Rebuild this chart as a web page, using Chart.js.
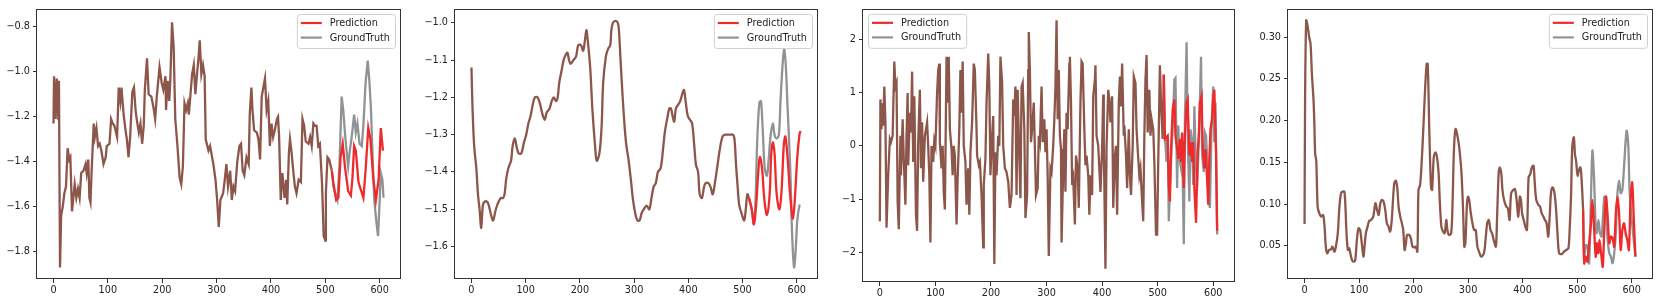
<!DOCTYPE html>
<html>
<head>
<meta charset="utf-8">
<script src="https://cdn.jsdelivr.net/npm/chart.js@4.4.1/dist/chart.umd.min.js"></script>
<style>
  html, body { margin: 0; padding: 0; background: #fff; }
  body { width: 1660px; height: 302px; position: relative; overflow: hidden; }
  .panel { position: absolute; top: 0; }
</style>
</head>
<body>
<div id="wrap"></div>
<script>
// shared x ticks (time step)
const xTicks = [0, 100, 200, 300, 400, 500, 600];

// ---- panel 1 ----
const p1History = [[0,-1.23],[1,-1.02],[4,-1.21],[6,-1.03],[9,-1.21],[10,-1.04],[12,-1.87],[14,-1.64],[17,-1.60],[20,-1.54],[23,-1.51],[26,-1.34],[29,-1.39],[31,-1.38],[34,-1.62],[39,-1.50],[42,-1.56],[45,-1.52],[48,-1.56],[51,-1.45],[55,-1.44],[59,-1.41],[61,-1.45],[64,-1.39],[66,-1.56],[68,-1.58],[70,-1.45],[74,-1.23],[76,-1.29],[79,-1.25],[82,-1.33],[85,-1.32],[88,-1.35],[92,-1.41],[96,-1.38],[98,-1.33],[103,-1.32],[106,-1.21],[109,-1.23],[112,-1.24],[117,-1.29],[120,-1.07],[123,-1.13],[125,-1.07],[129,-1.19],[133,-1.27],[135,-1.30],[138,-1.38],[141,-1.29],[145,-1.09],[148,-1.07],[151,-1.17],[153,-1.21],[157,-1.27],[160,-1.23],[163,-1.32],[166,-1.24],[168,-1.08],[172,-0.94],[175,-1.10],[180,-1.11],[184,-1.16],[187,-1.21],[190,-1.11],[195,-0.98],[199,-1.05],[202,-1.08],[206,-1.02],[207,-1.17],[210,-1.04],[213,-1.13],[215,-1.03],[218,-0.78],[221,-0.89],[224,-1.21],[228,-1.33],[232,-1.47],[235,-1.50],[238,-1.42],[241,-1.14],[244,-1.17],[247,-1.14],[249,-1.19],[252,-1.10],[255,-1.01],[258,-0.97],[261,-1.10],[264,-1.01],[267,-0.93],[269,-0.86],[272,-1.01],[275,-0.97],[278,-1.02],[280,-1.30],[285,-1.35],[288,-1.33],[291,-1.37],[294,-1.41],[298,-1.48],[301,-1.57],[304,-1.69],[307,-1.57],[312,-1.54],[315,-1.48],[318,-1.41],[321,-1.51],[325,-1.44],[328,-1.57],[331,-1.51],[334,-1.53],[338,-1.40],[342,-1.33],[345,-1.32],[348,-1.44],[351,-1.46],[355,-1.38],[359,-1.41],[361,-1.19],[364,-1.07],[366,-1.17],[369,-1.26],[374,-1.27],[377,-1.30],[380,-1.39],[383,-1.11],[386,-1.07],[389,-1.03],[392,-1.17],[395,-1.13],[398,-1.33],[401,-1.23],[404,-1.29],[407,-1.26],[411,-1.21],[413,-1.20],[415,-1.29],[418,-1.57],[421,-1.45],[425,-1.56],[428,-1.48],[430,-1.59],[433,-1.36],[435,-1.30],[438,-1.36],[441,-1.44],[444,-1.51],[447,-1.54],[451,-1.48],[455,-1.49],[458,-1.21],[461,-1.24],[464,-1.31],[469,-1.32],[472,-1.29],[475,-1.33],[478,-1.23],[481,-1.24],[484,-1.24],[487,-1.33],[490,-1.32],[494,-1.50],[497,-1.73],[500,-1.75],[501,-1.54],[504,-1.38],[507,-1.39],[512,-1.44]];
const p1Pred = [[512,-1.44],[515,-1.50],[520,-1.57],[524,-1.56],[528,-1.38],[532,-1.32],[536,-1.42],[542,-1.53],[547,-1.55],[550,-1.47],[553,-1.33],[556,-1.35],[561,-1.49],[566,-1.53],[570,-1.56],[574,-1.44],[579,-1.25],[583,-1.30],[588,-1.47],[593,-1.57],[598,-1.48],[602,-1.25],[606,-1.35]];
const p1True = [[512,-1.44],[515,-1.51],[518,-1.54],[522,-1.57],[526,-1.42],[530,-1.11],[533,-1.17],[536,-1.27],[539,-1.35],[542,-1.42],[545,-1.35],[548,-1.30],[553,-1.19],[556,-1.27],[559,-1.23],[563,-1.32],[567,-1.33],[570,-1.24],[574,-1.05],[578,-0.95],[581,-1.04],[584,-1.17],[587,-1.38],[590,-1.57],[594,-1.67],[597,-1.73],[600,-1.57],[602,-1.45],[605,-1.48],[607,-1.56]];
const p1YTicks = [-1.8, -1.6, -1.4, -1.2, -1.0, -0.8];

// ---- panel 2 ----
const p2History = [[0,-1.12],[2,-1.23],[5,-1.33],[9,-1.39],[12,-1.46],[15,-1.50],[18,-1.55],[21,-1.49],[24,-1.48],[29,-1.48],[32,-1.49],[37,-1.52],[40,-1.53],[45,-1.50],[50,-1.48],[54,-1.47],[58,-1.47],[61,-1.46],[64,-1.42],[68,-1.39],[73,-1.37],[76,-1.33],[80,-1.31],[83,-1.33],[87,-1.35],[92,-1.35],[97,-1.32],[101,-1.30],[105,-1.27],[109,-1.25],[113,-1.22],[117,-1.20],[122,-1.20],[127,-1.22],[130,-1.24],[135,-1.26],[139,-1.24],[144,-1.23],[148,-1.21],[152,-1.20],[156,-1.21],[159,-1.20],[162,-1.16],[166,-1.13],[170,-1.10],[174,-1.085],[177,-1.08],[180,-1.10],[183,-1.11],[188,-1.10],[193,-1.09],[197,-1.06],[202,-1.06],[206,-1.075],[209,-1.05],[212,-1.02],[214,-1.04],[219,-1.12],[223,-1.23],[228,-1.33],[231,-1.37],[236,-1.35],[240,-1.28],[243,-1.16],[248,-1.09],[252,-1.07],[256,-1.06],[258,-1.02],[261,-1.00],[266,-0.995],[270,-1.00],[272,-1.02],[275,-1.10],[280,-1.225],[285,-1.32],[290,-1.37],[294,-1.42],[298,-1.475],[302,-1.51],[306,-1.53],[310,-1.53],[314,-1.51],[318,-1.50],[323,-1.49],[328,-1.50],[332,-1.47],[336,-1.44],[340,-1.43],[344,-1.40],[349,-1.39],[354,-1.33],[357,-1.29],[362,-1.25],[365,-1.23],[368,-1.23],[371,-1.25],[374,-1.265],[377,-1.23],[381,-1.22],[385,-1.21],[389,-1.19],[392,-1.18],[395,-1.21],[399,-1.25],[403,-1.26],[407,-1.27],[411,-1.33],[414,-1.38],[418,-1.40],[421,-1.46],[425,-1.47],[429,-1.44],[432,-1.43],[437,-1.43],[441,-1.44],[445,-1.46],[449,-1.43],[454,-1.38],[458,-1.34],[463,-1.305],[468,-1.30],[473,-1.30],[477,-1.30],[482,-1.30],[485,-1.31],[488,-1.38],[491,-1.44],[494,-1.49],[498,-1.51],[503,-1.53],[506,-1.50],[509,-1.46],[512,-1.47]];
const p2Pred = [[512,-1.47],[517,-1.50],[521,-1.54],[525,-1.49],[529,-1.40],[532,-1.36],[536,-1.39],[540,-1.47],[545,-1.515],[550,-1.46],[553,-1.35],[556,-1.32],[559,-1.35],[563,-1.46],[568,-1.50],[572,-1.45],[576,-1.33],[579,-1.305],[583,-1.36],[588,-1.465],[593,-1.525],[597,-1.46],[601,-1.36],[605,-1.30],[607,-1.29]];
const p2True = [[512,-1.47],[517,-1.50],[521,-1.54],[524,-1.475],[527,-1.32],[531,-1.215],[534,-1.21],[537,-1.28],[541,-1.39],[545,-1.41],[548,-1.37],[552,-1.30],[556,-1.27],[559,-1.30],[563,-1.31],[567,-1.30],[570,-1.21],[574,-1.11],[577,-1.07],[580,-1.12],[583,-1.225],[588,-1.39],[591,-1.55],[595,-1.655],[598,-1.61],[601,-1.53],[605,-1.49],[607,-1.49]];
const p2YTicks = [-1.6, -1.5, -1.4, -1.3, -1.2, -1.1, -1.0];

// ---- panel 3 ----
const p3History = [[0,-1.41],[1,0.87],[3,0.31],[4,0.80],[6,0.38],[8,1.11],[10,0.44],[12,-1.53],[15,-0.55],[18,0.13],[20,0.07],[23,0.19],[26,1.58],[28,1.11],[30,1.18],[32,-1.04],[34,-1.56],[37,0.19],[38,-0.55],[41,0.50],[43,-0.24],[46,-1.10],[48,0.19],[50,0.99],[51,-0.36],[54,0.62],[56,0.25],[58,1.39],[60,-0.30],[62,0.93],[65,-1.29],[67,-1.59],[69,0.07],[72,1.05],[74,-0.42],[76,0.44],[78,-0.67],[81,0.19],[83,0.31],[85,0.44],[87,0.0],[89,-0.55],[91,-1.81],[93,0.0],[96,-0.30],[98,0.10],[100,0.0],[103,0.99],[105,1.42],[107,1.54],[108,0.07],[111,-0.42],[113,0.0],[115,-0.86],[117,-1.19],[120,1.67],[122,0.81],[124,1.67],[126,0.31],[129,-0.06],[131,-0.55],[133,0.0],[135,-0.18],[138,-1.47],[140,-0.61],[143,0.31],[145,1.42],[147,0.62],[149,1.58],[151,0.0],[154,-0.30],[156,-1.10],[159,-0.42],[161,-1.29],[163,-0.12],[166,0.44],[169,1.54],[171,1.42],[174,0.31],[175,-0.18],[178,-0.36],[180,-0.30],[183,-0.92],[186,-1.90],[187,-0.73],[190,-0.24],[192,0.81],[195,1.73],[197,1.11],[199,-0.55],[202,0.19],[204,0.56],[206,-2.21],[208,-0.12],[210,-0.55],[213,0.19],[215,0.0],[217,1.67],[220,1.18],[222,0.0],[225,-0.42],[228,-0.49],[231,-0.67],[234,-1.16],[237,-0.92],[240,0.87],[242,0.56],[244,1.11],[246,-0.92],[248,1.05],[250,0.19],[253,-0.98],[255,1.11],[257,1.18],[260,0.31],[262,-1.35],[265,-0.92],[267,1.42],[268,2.13],[270,1.42],[272,0.07],[274,0.31],[277,0.81],[281,-0.92],[284,-0.79],[286,0.19],[288,0.07],[291,1.11],[293,0.07],[296,0.50],[298,-0.12],[300,0.31],[302,-0.55],[304,-2.06],[307,-0.42],[309,-0.49],[312,0.0],[314,0.50],[316,1.11],[318,2.35],[320,0.50],[322,1.42],[324,0.19],[326,-0.06],[327,-1.81],[330,-0.42],[332,0.31],[334,-0.86],[336,0.62],[338,0.31],[341,1.54],[342,1.67],[344,0.81],[346,-0.73],[348,-0.61],[351,-1.47],[353,-0.18],[356,-0.42],[358,-1.16],[361,0.81],[363,1.58],[365,1.54],[368,0.31],[370,-0.36],[372,-0.18],[375,-0.55],[377,-1.29],[379,-0.55],[382,-0.92],[384,0.93],[387,1.24],[388,1.51],[390,0.19],[393,0.0],[395,-0.42],[397,-0.86],[400,-0.06],[402,0.96],[403,0.07],[406,-2.30],[408,0.0],[411,1.05],[413,0.87],[415,0.44],[418,0.93],[420,-1.16],[423,-0.18],[425,0.0],[427,-1.29],[430,0.81],[432,1.30],[434,0.74],[436,1.54],[439,0.19],[440,0.38],[443,-0.18],[445,-0.79],[448,0.31],[450,-0.55],[452,-0.92],[455,0.0],[457,1.30],[460,1.18],[462,0.31],[464,-0.06],[467,-0.55],[469,-0.42],[472,-1.04],[474,-1.41],[476,0.19],[478,1.24],[480,1.70],[482,0.25],[485,1.05],[487,0.19],[489,0.50],[492,0.31],[494,-0.30],[497,-1.66],[499,-1.66],[501,-0.30],[504,1.51],[506,0.81],[509,0.13],[511,1.33]];
const p3Pred = [[511,1.33],[513,0.13],[518,0.19],[520,-0.73],[522,-1.04],[524,-0.06],[527,0.68],[530,0.87],[532,0.19],[535,-0.06],[537,-0.24],[540,0.13],[542,-0.30],[544,0.25],[547,-0.79],[549,0.19],[552,0.81],[554,0.87],[557,-0.18],[559,0.07],[562,-0.30],[564,0.07],[566,-0.79],[569,-1.44],[572,-0.12],[574,0.19],[576,0.81],[579,0.93],[581,0.0],[584,-0.42],[586,-0.06],[588,-0.42],[591,-1.10],[593,-0.24],[595,0.31],[598,0.50],[600,0.93],[602,1.05],[605,-0.12],[607,-1.59]];
const p3True = [[511,1.33],[513,0.19],[516,-0.30],[518,0.19],[520,-1.41],[523,-0.55],[525,-0.06],[527,0.31],[530,1.24],[532,1.27],[535,-0.79],[537,0.38],[540,-0.30],[542,-0.42],[544,0.07],[547,-1.84],[549,0.44],[552,1.94],[554,0.19],[557,-1.04],[559,0.31],[562,0.07],[564,-0.73],[566,0.74],[569,-0.42],[571,-0.79],[574,0.07],[576,0.81],[578,1.67],[580,-0.18],[583,-0.49],[585,0.25],[587,0.19],[590,-0.42],[592,-1.04],[594,-1.16],[597,0.38],[600,1.11],[602,0.07],[604,0.81],[607,-1.66]];
const p3YTicks = [-2, -1, 0, 1, 2];

// ---- panel 4 ----
const p4History = [[0,0.076],[1,0.224],[3,0.320],[5.5,0.314],[8.5,0.300],[11,0.292],[13.5,0.256],[16.5,0.224],[18,0.196],[19.5,0.160],[21.5,0.152],[24,0.097],[27,0.089],[30.5,0.085],[34,0.087],[36.7,0.073],[39,0.049],[41.6,0.041],[45,0.045],[49,0.046],[51,0.049],[55,0.043],[58,0.051],[61,0.065],[64,0.097],[67,0.113],[70,0.115],[73,0.115],[75,0.097],[77,0.065],[79.5,0.045],[82,0.047],[84,0.041],[87,0.033],[90,0.031],[93,0.033],[96,0.057],[99,0.071],[102,0.069],[105,0.053],[108,0.037],[110,0.049],[112.5,0.065],[115.6,0.073],[118.7,0.080],[122,0.081],[126,0.085],[130,0.101],[133,0.093],[136,0.087],[139,0.101],[142,0.105],[145,0.103],[148,0.093],[151,0.077],[154,0.073],[157,0.067],[160,0.081],[163,0.113],[165,0.126],[167.6,0.128],[170,0.120],[172.5,0.097],[175.5,0.085],[178.6,0.077],[181,0.069],[183.5,0.045],[186,0.053],[188,0.063],[192,0.063],[195,0.059],[198,0.049],[201,0.048],[204,0.049],[207,0.043],[209,0.117],[212,0.123],[215,0.152],[218,0.192],[221,0.236],[224,0.268],[226,0.268],[229,0.184],[232,0.120],[234,0.117],[237,0.156],[240,0.162],[243,0.156],[246,0.136],[248,0.105],[251,0.073],[254,0.067],[257,0.065],[260,0.081],[262,0.069],[265,0.063],[269,0.065],[271.5,0.101],[274,0.164],[277,0.190],[282,0.176],[285,0.160],[288,0.136],[291,0.089],[293,0.049],[295,0.053],[298,0.101],[300,0.109],[302,0.105],[305,0.089],[308,0.077],[311,0.069],[314,0.069],[317,0.049],[320,0.043],[324,0.037],[329,0.041],[332,0.057],[335,0.077],[338,0.081],[341,0.069],[344,0.065],[347,0.057],[351,0.049],[353,0.081],[356,0.136],[358,0.144],[361,0.136],[363,0.117],[366,0.105],[370,0.097],[373,0.095],[376,0.081],[379,0.113],[383,0.117],[386,0.118],[389,0.105],[392,0.085],[395,0.109],[397,0.105],[399,0.089],[402,0.081],[405,0.073],[408,0.069],[411,0.132],[414,0.136],[417,0.144],[420,0.146],[422,0.128],[425,0.105],[429,0.099],[432,0.097],[435,0.089],[438,0.085],[441,0.081],[444,0.077],[447,0.061],[450,0.089],[452,0.113],[455,0.120],[458,0.115],[461,0.097],[464,0.065],[467,0.041],[472,0.040],[476,0.043],[480,0.045],[484,0.047],[486,0.065],[489,0.113],[491,0.168],[494,0.180],[496,0.160],[498,0.152],[501,0.134],[503,0.140],[506,0.144],[508,0.132],[511,0.093]];
const p4Pred = [[511,0.093],[513,0.029],[516,0.037],[519,0.031],[522,0.053],[525,0.073],[528,0.105],[531,0.073],[534,0.037],[536,0.053],[539,0.041],[541,0.057],[544,0.041],[547,0.025],[550,0.073],[553,0.109],[556,0.085],[559,0.053],[562,0.061],[565,0.059],[568,0.049],[571,0.089],[574,0.109],[577,0.089],[580,0.045],[583,0.069],[586,0.077],[589,0.065],[592,0.057],[595,0.045],[598,0.105],[601,0.126],[604,0.081],[607,0.037]];
const p4True = [[511,0.093],[513,0.037],[516,0.051],[519,0.049],[522,0.029],[525,0.097],[528,0.164],[531,0.132],[534,0.073],[536,0.065],[539,0.081],[542,0.065],[545,0.061],[547,0.081],[550,0.109],[553,0.089],[556,0.057],[559,0.041],[562,0.037],[565,0.029],[568,0.041],[571,0.065],[574,0.113],[577,0.128],[580,0.113],[583,0.117],[586,0.144],[589,0.176],[591,0.188],[594,0.168],[596,0.120],[599,0.089],[602,0.069],[605,0.049],[607,0.037]];
const p4YTicks = [0.05, 0.10, 0.15, 0.20, 0.25, 0.30];

const FONT = "'DejaVu Sans', sans-serif";
const FS = 9.7;
const RED = "#ee2a2a", GRAY = "#909396", BROWN = "#8c564b", AXIS = "#333";

const panels = [
    { hist: p1History, pred: p1Pred, truth: p1True, ticks: p1YTicks, dec: 1, yMin: -1.921, yMax: -0.721, area: { l: 37, t: 9, r: 400, b: 279 }, legend: "right", tension: 0 },
    { hist: p2History, pred: p2Pred, truth: p2True, ticks: p2YTicks, dec: 1, yMin: -1.687, yMax: -0.963, area: { l: 455, t: 9, r: 817, b: 279 }, legend: "right", tension: 0.35 },
    { hist: p3History, pred: p3Pred, truth: p3True, ticks: p3YTicks, dec: 0, yMin: -2.548, yMax: 2.566, area: { l: 863, t: 5, r: 1234, b: 282 }, legend: "left", tension: 0 },
    { hist: p4History, pred: p4Pred, truth: p4True, ticks: p4YTicks, dec: 2, yMin: 0.0102, yMax: 0.334, area: { l: 1288, t: 8, r: 1652, b: 279 }, legend: "right", tension: 0.3 },
];

// axes box (matplotlib spines) + legend inside the plot
const frameAndLegend = {
    id: "frameAndLegend",
    afterDraw(chart, args, opts) {
        const { ctx, chartArea: a } = chart;
        ctx.save();
        ctx.strokeStyle = AXIS;
        ctx.lineWidth = 1;
        ctx.strokeRect(Math.round(a.left) - 0.5, Math.round(a.top) + 0.5, Math.round(a.right - a.left) + 1, Math.round(a.bottom - a.top) - 1);

        const items = chart.data.datasets.filter(d => d.label);
        ctx.font = `${FS}px ${FONT}`;
        const textW = Math.max(...items.map(d => ctx.measureText(d.label).width));
        const w = 33 + textW + 5, h = 34;
        const x = opts.side === "left" ? a.left + 5 : a.right - 5 - w;
        const y = a.top + 5;
        ctx.beginPath();
        ctx.roundRect(x + 0.5, y + 0.5, w, h, 3);
        ctx.fillStyle = "rgba(255,255,255,0.85)";
        ctx.fill();
        ctx.strokeStyle = "#d0d0d0";
        ctx.stroke();
        items.forEach((d, i) => {
            const yy = y + 9 + i * 14.6;
            ctx.beginPath();
            ctx.moveTo(x + 4, yy);
            ctx.lineTo(x + 25, yy);
            ctx.strokeStyle = d.borderColor;
            ctx.lineWidth = 2.2;
            ctx.stroke();
            ctx.fillStyle = "#222";
            ctx.textBaseline = "middle";
            ctx.fillText(d.label, x + 33, yy + 0.5);
        });
        ctx.restore();
    },
};

const toXY = arr => arr.map(([x, y]) => ({ x, y }));
const minusSign = s => s.replace("-", "\u2212");

panels.forEach(p => {
    const leftRoom = 40, rightRoom = 6, xAxisH = 20;
    const div = document.createElement("div");
    div.className = "panel";
    div.style.left = (p.area.l - leftRoom) + "px";
    const canvas = document.createElement("canvas");
    canvas.width = p.area.r - p.area.l + leftRoom + rightRoom;
    canvas.height = 302;
    div.appendChild(canvas);
    document.getElementById("wrap").appendChild(div);

    const line = (label, data, color, order) => ({
        label, data: toXY(data), borderColor: color, borderWidth: 2.3,
        pointRadius: 0, tension: p.tension, order, fill: false,
    });

    new Chart(canvas, {
        type: "line",
        data: {
            datasets: [
                line("Prediction", p.pred, RED, 0),
                line("GroundTruth", p.truth, GRAY, 1),
                line("", p.hist, BROWN, 2),
            ],
        },
        options: {
            responsive: false,
            animation: false,
            devicePixelRatio: 1,
            layout: { padding: { top: p.area.t, bottom: 302 - p.area.b - xAxisH, left: 0, right: rightRoom } },
            scales: {
                x: {
                    type: "linear", min: -30.35, max: 637.35,
                    afterBuildTicks: s => { s.ticks = xTicks.map(v => ({ value: v })); },
                    afterFit: s => { s.height = xAxisH; },
                    ticks: { color: "#222", font: { family: FONT, size: FS }, padding: 2, maxRotation: 0, callback: v => String(v) },
                    grid: { drawOnChartArea: false, drawTicks: true, tickLength: 4, color: AXIS },
                    border: { display: false },
                },
                y: {
                    type: "linear", min: p.yMin, max: p.yMax,
                    afterBuildTicks: s => { s.ticks = p.ticks.map(v => ({ value: v })); },
                    afterFit: s => { s.width = leftRoom; },
                    ticks: { color: "#222", font: { family: FONT, size: FS }, padding: 3, callback: v => minusSign(Number(v).toFixed(p.dec)) },
                    grid: { drawOnChartArea: false, drawTicks: true, tickLength: 4, color: AXIS },
                    border: { display: false },
                },
            },
            plugins: {
                legend: { display: false },
                tooltip: { enabled: false },
                frameAndLegend: { side: p.legend },
            },
        },
        plugins: [frameAndLegend],
    });
});
</script>
</body>
</html>
